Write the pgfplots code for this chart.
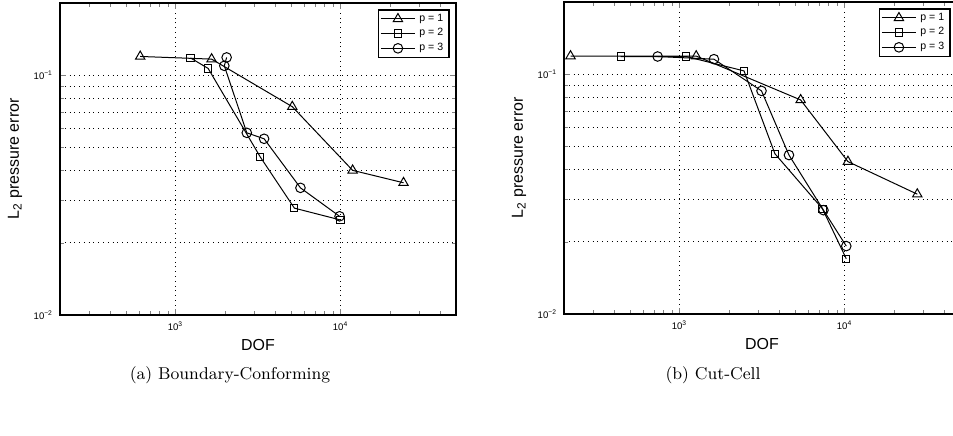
\documentclass[border=0pt]{standalone}
\usepackage{fontspec}
\usepackage{pgfplots}
\pgfplotsset{compat=1.18}
\newfontfamily\hv{Liberation Sans}
\begin{document}
\begin{tikzpicture}
\useasboundingbox (0bp,0bp) rectangle (476.5bp,218bp);
\begin{axis}[
    at={(30bp,60.5bp)}, anchor=south west,
    xmode=log, ymode=log,
    scale only axis,
    width=198bp, height=156bp,
    xmin=200, xmax=50000, ymin=0.01, ymax=0.2,
    xtick={1000,10000},
    xticklabels={10\textsuperscript{3},10\textsuperscript{4}},
    minor xtick={200,300,400,500,600,700,800,900,2000,3000,4000,5000,6000,7000,8000,9000,20000,30000,40000,50000},
    ytick={0.01,0.1},
    yticklabels={10\textsuperscript{−2},10\textsuperscript{−1}},
    minor ytick={0.02,0.03,0.04,0.05,0.06,0.07,0.08,0.09,0.2},
    xmajorgrids=true, ymajorgrids=true, yminorgrids=true,
    major grid style={dotted, line width=0.4bp, black},
    minor grid style={dotted, line width=0.4bp, black},
    axis line style={line width=0.9bp},
    major tick length=3bp, minor tick length=1.8bp,
    tick align=inside,
    ticklabel style={font=\hv\fontsize{4.8}{5}\selectfont},
    xlabel={DOF},
    xlabel style={font=\hv\fontsize{8}{9}\selectfont, at={(axis description cs:0.5,0)}, anchor=center, yshift=-15bp},
    ylabel={L\textsubscript{2} pressure error},
    ylabel style={font=\hv\fontsize{8}{9}\selectfont, at={(axis description cs:0,0.5)}, anchor=center, yshift=22.5bp},
    legend style={at={(1,1)}, anchor=north east, xshift=-3bp, yshift=-3bp,
      font=\hv\fontsize{5.3}{6}\selectfont, draw=black, line width=0.8bp,
      inner xsep=1bp, inner ysep=0bp, row sep=-1.8bp},
    legend cell align=left,
  ]
\addplot[black, line width=0.5bp, mark=triangle, mark size=2.7bp, mark options={solid}] coordinates {(612,0.1197) (1656,0.1167) (5100,0.0739) (11830,0.0401) (24050,0.0356)};
\addlegendentry{p = 1}
\addplot[black, line width=0.5bp, mark=square, mark size=1.8bp, mark options={solid}] coordinates {(1234,0.118) (1578,0.1067) (3258,0.0457) (5250,0.0279) (10000,0.0249)};
\addlegendentry{p = 2}
\addplot[black, line width=0.5bp, mark=o, mark size=2.4bp, mark options={solid}] coordinates {(2042,0.1186) (1977,0.1094) (2705,0.0575) (3443,0.0543) (5715,0.0339) (9860,0.0258)};
\addlegendentry{p = 3}
\end{axis}
\begin{axis}[
    at={(282bp,61bp)}, anchor=south west,
    xmode=log, ymode=log,
    scale only axis,
    width=198bp, height=156bp,
    xmin=200, xmax=50000, ymin=0.01, ymax=0.2,
    xtick={1000,10000},
    xticklabels={10\textsuperscript{3},10\textsuperscript{4}},
    minor xtick={200,300,400,500,600,700,800,900,2000,3000,4000,5000,6000,7000,8000,9000,20000,30000,40000,50000},
    ytick={0.01,0.1},
    yticklabels={10\textsuperscript{−2},10\textsuperscript{−1}},
    minor ytick={0.02,0.03,0.04,0.05,0.06,0.07,0.08,0.09,0.2},
    xmajorgrids=true, ymajorgrids=true, yminorgrids=true,
    major grid style={dotted, line width=0.4bp, black},
    minor grid style={dotted, line width=0.4bp, black},
    axis line style={line width=0.9bp},
    major tick length=3bp, minor tick length=1.8bp,
    tick align=inside,
    ticklabel style={font=\hv\fontsize{4.8}{5}\selectfont},
    xlabel={DOF},
    xlabel style={font=\hv\fontsize{8}{9}\selectfont, at={(axis description cs:0.5,0)}, anchor=center, yshift=-15bp},
    ylabel={L\textsubscript{2} pressure error},
    ylabel style={font=\hv\fontsize{8}{9}\selectfont, at={(axis description cs:0,0.5)}, anchor=center, yshift=22.5bp},
    legend style={at={(1,1)}, anchor=north east, xshift=-4.5bp, yshift=-3bp,
      font=\hv\fontsize{5.3}{6}\selectfont, draw=black, line width=0.8bp,
      inner xsep=1bp, inner ysep=0bp, row sep=-1.8bp},
    legend cell align=left,
  ]
\addplot[black, line width=0.5bp, mark=triangle, mark size=2.7bp, mark options={solid}] coordinates {(219,0.119) (1263,0.119) (5420,0.0781) (10480,0.0432) (27560,0.0316)};
\addlegendentry{p = 1}
\addplot[black, line width=0.5bp, mark=square, mark size=1.8bp, mark options={solid}] coordinates {(441,0.1185) (1098,0.1185) (2460,0.1032) (3785,0.0466) (7340,0.0275) (10240,0.0170)};
\addlegendentry{p = 2}
\addplot[black, line width=0.5bp, mark=o, mark size=2.4bp, mark options={solid}] coordinates {(738,0.1185) (1618,0.1155) (3140,0.0852) (4605,0.046) (7450,0.0271) (10240,0.0192)};
\addlegendentry{p = 3}
\end{axis}
\node[font=\fontsize{8.6}{10}\selectfont] at (115bp,30.5bp) {(a) Boundary-Conforming};
\node[font=\fontsize{8.6}{10}\selectfont] at (356.5bp,30.5bp) {(b) Cut-Cell};
\end{tikzpicture}
\end{document}
